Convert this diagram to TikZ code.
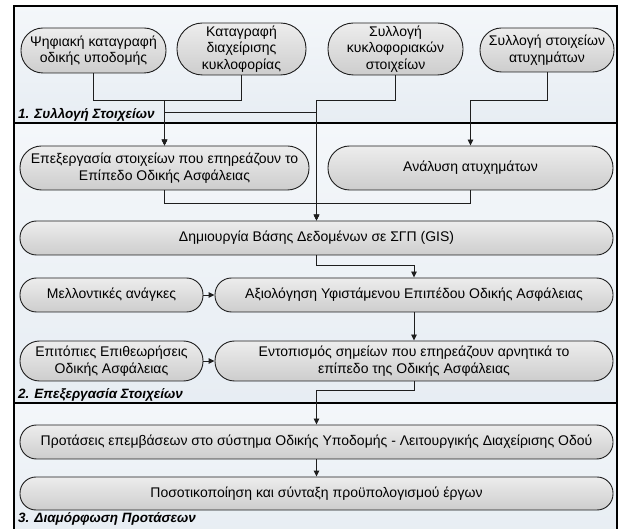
\documentclass[tikz,border=0pt]{standalone}
\usepackage{fontspec}
\setmainfont{Liberation Sans}
\usetikzlibrary{arrows.meta}
\definecolor{bgtop}{HTML}{F4F7FA}
\definecolor{bgbot}{HTML}{E7EDF3}
\definecolor{boxtop}{HTML}{EDEDED}
\definecolor{boxbot}{HTML}{CDCDCD}
\definecolor{edge}{HTML}{1E1E1E}
\begin{document}
\begin{tikzpicture}[x=1pt,y=-1pt,
  proc/.style={draw=edge, line width=0.9pt, top color=boxtop, bottom color=boxbot,
    inner sep=0pt, align=center, font=\fontsize{14}{16.5}\selectfont},
  conn/.style={draw=edge, line width=0.9pt},
  arr/.style={conn, -{Triangle[length=6pt,width=5.5pt]}},
  phase/.style={anchor=west, inner sep=0pt, font=\fontsize{13.5}{16}\selectfont\bfseries\itshape},
  sep/.style={draw=black, line width=1.6pt}]
\useasboundingbox (0,0) rectangle (619,529);
% backgrounds
\fill[top color=bgtop, bottom color=bgbot] (14,6) rectangle (617,123);
\fill[top color=bgtop, bottom color=bgbot] (14,123) rectangle (617,403);
\fill[top color=bgtop, bottom color=bgbot] (14,403) rectangle (617,535);
\draw[sep] (14,123) -- (617,123);
\draw[sep] (14,403) -- (617,403);
\draw[line width=1.6pt] (14,535) -- (14,6) -- (617,6) -- (617,535);
% phase labels
\node[phase] (l1) at (18,115) {1. Συλλογή Στοιχείων};
\node[phase] (l2) at (18,395) {2. Επεξεργασία Στοιχείων};
\node[phase] (l3) at (18,519) {3. Διαμόρφωση Προτάσεων};
% section 1
\node[proc, minimum width=145pt, minimum height=45pt, rounded corners=22pt] (b1) at (93.5,50.5) {Ψηφιακή καταγραφή\\οδικής υποδομής};
\node[proc, minimum width=129pt, minimum height=52pt, rounded corners=25.5pt] (b2) at (241.5,49) {Καταγραφή\\διαχείρισης\\κυκλοφορίας};
\node[proc, minimum width=135pt, minimum height=52pt, rounded corners=25.5pt] (b3) at (395.5,49) {Συλλογή\\κυκλοφοριακών\\στοιχείων};
\node[proc, minimum width=134pt, minimum height=44pt, rounded corners=21.5pt] (b4) at (547,50) {Συλλογή στοιχείων\\ατυχημάτων};
% section 2
\node[proc, minimum width=289pt, minimum height=44pt, rounded corners=21.5pt] (e) at (164.5,168) {Επεξεργασία στοιχείων που επηρεάζουν το\\Επίπεδο Οδικής Ασφάλειας};
\node[proc, minimum width=285pt, minimum height=44pt, rounded corners=21.5pt] (a) at (470.5,168) {Ανάλυση ατυχημάτων};
\node[proc, minimum width=593pt, minimum height=34pt, rounded corners=16.5pt] (g) at (316.5,238) {Δημιουργία Βάσης Δεδομένων σε ΣΓΠ (GIS)};
\node[proc, minimum width=183pt, minimum height=34pt, rounded corners=16.5pt] (m) at (111.5,295) {Μελλοντικές ανάγκες};
\node[proc, minimum width=398pt, minimum height=34pt, rounded corners=16.5pt] (ax) at (414,295) {Αξιολόγηση Υφιστάμενου Επιπέδου Οδικής Ασφάλειας};
\node[proc, minimum width=183pt, minimum height=40pt, rounded corners=19.5pt] (ep) at (111.5,361) {Επιτόπιες Επιθεωρήσεις\\Οδικής Ασφάλειας};
\node[proc, minimum width=398pt, minimum height=40pt, rounded corners=19.5pt] (en) at (414,361) {Εντοπισμός σημείων που επηρεάζουν αρνητικά το\\επίπεδο της Οδικής Ασφάλειας};
% section 3
\node[proc, minimum width=593pt, minimum height=34pt, rounded corners=16.5pt] (p) at (316.5,442) {Προτάσεις επεμβάσεων στο σύστημα Οδικής Υποδομής - Λειτουργικής Διαχείρισης Οδού};
\node[proc, minimum width=593pt, minimum height=33pt, rounded corners=16pt] (q) at (316.5,493.5) {Ποσοτικοποίηση και σύνταξη προϋπολογισμού έργων};
% connectors
\draw[arr] (b1.south) -- ++(0,27) -| (e.north);
\draw[arr] (b2.south) -- ++(0,25) -| (e.north);
\draw[arr] (b3.south) -- ++(0,25) -| (g.north);
\draw[arr] (b3.south) -- ++(0,25) -| (g.north |- 0,112) -| (e.north);
\draw[arr] (b4.south) -- ++(0,28) -| (a.north);
\draw[arr] (e.south) -- ++(0,13) -| (g.north);
\draw[arr] (a.south) -- ++(0,13) -| (g.north);
\draw[arr] (g.south) -- ++(0,10) -| (ax.north);
\draw[arr] (m.east) -- (ax.west);
\draw[arr] (ax.south) -- (en.north);
\draw[arr] (ep.east) -- (en.west);
\draw[arr] (en.south) -- ++(0,9) -| (p.north);
\draw[arr] (p.south) -- (q.north);
\end{tikzpicture}
\end{document}
